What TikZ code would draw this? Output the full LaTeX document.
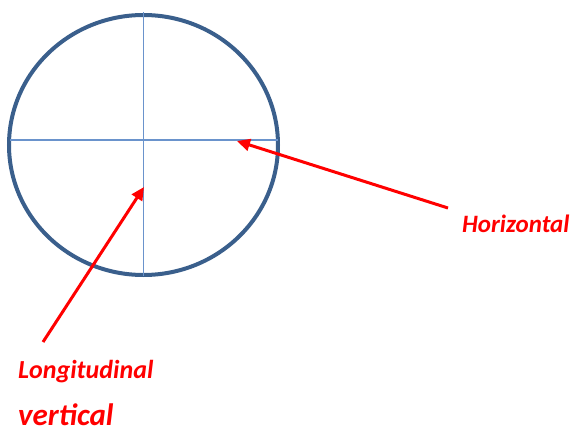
\documentclass[tikz,border=0pt]{standalone}
\usepackage{fontspec}
\setmainfont{Carlito}
\usetikzlibrary{arrows.meta}
\definecolor{ringblue}{HTML}{3A5F8C}
\definecolor{axisblue}{HTML}{6A93CC}
\begin{document}
\begin{tikzpicture}[
x=1pt,y=-1pt,
ring/.style={draw=ringblue, line width=4pt},
axis/.style={draw=axisblue, line width=1.4pt},
arrow/.style={-{Triangle[length=13pt,width=12pt]}, draw=red, fill=red, line width=3pt},
lbl/.style={text=red, anchor=base west, inner sep=0pt}
]
\useasboundingbox (0,0) rectangle (576,433);

% =======================
% CIRCLE AND AXES
% =======================

\draw[ring] (143.5,145) ellipse [x radius=134.5, y radius=130];

\coordinate (vtop) at (143.5,12);
\coordinate (vbot) at (143.5,276);
\coordinate (hleft) at (10,140);
\coordinate (hright) at (278,140);

\draw[axis] (vtop) -- (vbot);
\draw[axis] (hleft) -- (hright);

% =======================
% LABELS
% =======================

\node[lbl, font=\bfseries\itshape\fontsize{25}{30}\selectfont] (horiz) at (462,233) {Horizontal};
\node[lbl, font=\bfseries\itshape\fontsize{26}{31}\selectfont] (longi) at (18,378) {Longitudinal};
\node[lbl, text depth=0pt, font=\bfseries\itshape\fontsize{31}{36}\selectfont] (vert) at (18,425) {vertical};

% =======================
% ARROWS
% =======================

\coordinate (htail) at (448,208);
\coordinate (htip) at (237,141);
\coordinate (ltail) at (43,342);
\coordinate (ltip) at (144,187);

\draw[arrow] (htail) -- (htip);
\draw[arrow] (ltail) -- (ltip);

\end{tikzpicture}
\end{document}
